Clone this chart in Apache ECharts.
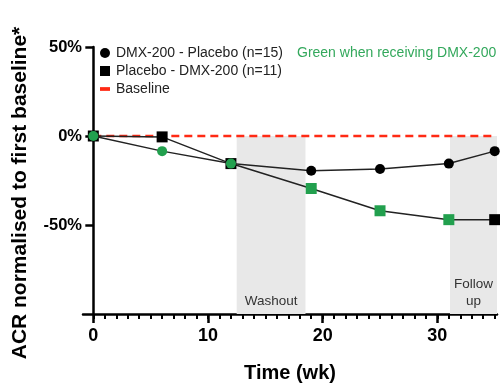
<!DOCTYPE html>
<html><head><meta charset="utf-8">
<script src="https://cdn.jsdelivr.net/npm/echarts@6/dist/echarts.min.js"></script>
<style>html,body{margin:0;padding:0;background:#fff}#c{width:500px;height:386px}</style>
</head><body><div id="c"></div>
<script>
// ---- data ----
var weeks = [0, 6, 12, 19, 25, 31, 35];
var dmxPlaceboVals = [0, -8.5, -15.5, -19.5, -18.5, -15.5, -8.5];
var dmxPlaceboOnDrug = [true, true, true, false, false, false, false];
var placeboDmxVals = [0, -0.5, -15.5, -29.5, -42, -47, -47];
var placeboDmxOnDrug = [false, false, false, true, true, true, false];
var baselineX = [0, 35];
var baselineY = [0, 0];
var shadeRanges = [[12.5, 18.5, 'Washout'], [31.1, 35.2, 'Follow\nup']];
var xTickLabels = [0, 10, 20, 30];
var xMinorTicks = [];
for (var i = 0; i <= 35; i++) xMinorTicks.push(i);
var yTickLabels = [50, 0, -50];
var seriesNames = ['DMX-200 - Placebo (n=15)', 'Placebo - DMX-200 (n=11)', 'Baseline'];
var yTitle = 'ACR normalised to first baseline*';
var xTitle = 'Time (wk)';

var GREEN = '#22a04e', BLACK = '#000', RED = '#ff2a14';
var FONT = '"Liberation Sans", Arial, sans-serif';

function build(vals, flags) {
  return weeks.map(function (w, i) {
    return { value: [w, vals[i]], itemStyle: { color: flags[i] ? GREEN : BLACK } };
  });
}

var chart = echarts.init(document.getElementById('c'));
chart.setOption({
  animation: false,
  textStyle: { fontFamily: FONT },
  title: {
    text: 'Green when receiving DMX-200', left: 292, top: 41,
    textStyle: { color: '#33a85c', fontSize: 14, fontWeight: 'normal', fontFamily: FONT }
  },
  graphic: [{
    type: 'text', left: 10, top: 'middle', rotation: Math.PI / 2, y: 2,
    style: { text: yTitle, fontSize: 21, fontWeight: 'bold', fill: '#000', font: 'bold 21px ' + FONT }
  }],
  legend: {
    orient: 'vertical', left: 95, top: 41, itemGap: 4, itemWidth: 10, itemHeight: 10,
    textStyle: { fontSize: 14, color: '#222', fontFamily: FONT, lineHeight: 14, padding: [0, 0, 0, 1] },
    data: [
      { name: seriesNames[0], icon: 'circle', itemStyle: { color: BLACK } },
      { name: seriesNames[1], icon: 'rect', itemStyle: { color: BLACK } },
      { name: seriesNames[2], icon: 'path://M0,0h8v3h-8z', itemStyle: { color: RED } }
    ]
  },
  grid: { left: 83, right: 3, top: 47, bottom: 72, outerBoundsMode: 'none', containLabel: false },
  xAxis: [{
    type: 'value', min: -0.9, max: 35.2,
    name: xTitle, nameLocation: 'middle', nameGap: 49,
    nameTextStyle: { fontSize: 20, fontWeight: 'bold', color: '#000', fontFamily: FONT },
    axisLine: { show: true, onZero: false, lineStyle: { color: '#000', width: 2.5 } },
    axisTick: { show: true, customValues: xTickLabels, length: 9, lineStyle: { color: '#000', width: 2.5 } },
    axisLabel: { customValues: xTickLabels, fontSize: 18, fontWeight: 'bold', color: '#000', margin: 13, fontFamily: FONT },
    splitLine: { show: false }
  }, {
    type: 'value', min: -0.9, max: 35.2, position: 'bottom',
    axisLine: { show: false, onZero: false },
    axisTick: { show: true, customValues: xMinorTicks, length: 5, lineStyle: { color: '#000', width: 2 } },
    axisLabel: { show: false },
    splitLine: { show: false }
  }],
  yAxis: {
    type: 'value', min: -100, max: 50, interval: 50,
    axisLine: { show: true, lineStyle: { color: '#000', width: 2.5 } },
    axisTick: { show: true, customValues: yTickLabels, length: 8, lineStyle: { color: '#000', width: 2.5 } },
    axisLabel: { customValues: yTickLabels, fontSize: 16.5, fontWeight: 'bold', color: '#000', margin: 1, fontFamily: FONT,
      formatter: function (v) { return v + '%'; } },
    splitLine: { show: false }
  },
  series: [
    {
      name: seriesNames[2], type: 'line', data: baselineX.map(function (x, i) { return [x, baselineY[i]]; }),
      symbol: 'none', z: 1,
      lineStyle: { color: RED, width: 2.5, type: [8, 5] }, itemStyle: { color: RED },
      markArea: {
        silent: true,
        itemStyle: { color: '#e8e8e8' },
        label: { position: 'insideBottom', distance: 4, color: '#333', fontSize: 13.5, fontFamily: FONT, lineHeight: 17 },
        data: shadeRanges.map(function (r) {
          return [{ xAxis: r[0], yAxis: 0, name: r[2] }, { xAxis: r[1], yAxis: -100 }];
        })
      }
    },
    {
      name: seriesNames[1], type: 'line', data: build(placeboDmxVals, placeboDmxOnDrug),
      symbol: 'rect', symbolSize: 11, z: 3,
      lineStyle: { color: '#222', width: 1.5 }, itemStyle: { color: BLACK }
    },
    {
      name: seriesNames[0], type: 'line', data: build(dmxPlaceboVals, dmxPlaceboOnDrug),
      symbol: 'circle', symbolSize: 10, z: 4,
      lineStyle: { color: '#222', width: 1.5 }, itemStyle: { color: BLACK }
    }
  ]
});
</script></body></html>
